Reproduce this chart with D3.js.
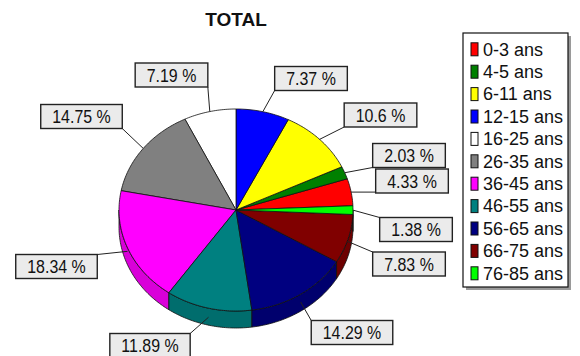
<!DOCTYPE html>
<html>
<head>
<meta charset="utf-8">
<script src="https://cdn.jsdelivr.net/npm/d3@7"></script>
<style>
  html, body { margin: 0; padding: 0; background: #ffffff; }
  svg { display: block; }
  text { font-family: "Liberation Sans", Arial, sans-serif; }
</style>
</head>
<body>
<script>
// Age groups, their share of the total (in %), and slice colours
const categories = ["0-3 ans", "4-5 ans", "6-11 ans", "12-15 ans", "16-25 ans", "26-35 ans",
                    "36-45 ans", "46-55 ans", "56-65 ans", "66-75 ans", "76-85 ans"];
const shares = [4.33, 2.03, 10.6, 7.37, 7.19, 14.75, 18.34, 11.89, 14.29, 7.83, 1.38];
const shareLabels = ["4.33 %", "2.03 %", "10.6 %", "7.37 %", "7.19 %", "14.75 %",
                     "18.34 %", "11.89 %", "14.29 %", "7.83 %", "1.38 %"];
const colors = ["#ff0000", "#008000", "#ffff00", "#0000ff", "#ffffff", "#808080",
                "#ff00ff", "#008080", "#000080", "#800000", "#00ff00"];
const title = "TOTAL";

const W = 580, H = 356;
const svg = d3.select("body").append("svg").attr("width", W).attr("height", H);

// Tilted pie geometry: elliptical top face plus a visible rim below it
const cx = 236, cy = 210, rx = 117, ry = 101, depth = 17;
const pt = (a, k = 1) => [cx + rx * k * Math.sin(a), cy - ry * k * Math.cos(a)];

// Slices run counter-clockwise; the 12-15 ans slice ends exactly at 12 o'clock
const total = d3.sum(shares);
const startA = 2 * Math.PI * d3.sum(shares.slice(0, 4)) / total;
const pie = d3.pie().sort(null).value(d => d)
  .startAngle(startA).endAngle(startA - 2 * Math.PI);
const arcs = pie(shares);

const arcPoints = (a0, a1) => {
  const n = Math.max(2, Math.ceil(Math.abs(a1 - a0) / (Math.PI / 180)));
  return d3.range(n + 1).map(i => pt(a0 + (a1 - a0) * i / n));
};
const line = d3.line();

// Rim: visible where the outer edge faces the viewer (lower half of the ellipse)
const visLo = -1.5 * Math.PI, visHi = -0.5 * Math.PI;
const rim = svg.append("g");
arcs.forEach((d, i) => {
  const lo = Math.max(Math.min(d.startAngle, d.endAngle), visLo);
  const hi = Math.min(Math.max(d.startAngle, d.endAngle), visHi);
  if (lo >= hi) return;
  const top = arcPoints(lo, hi);
  const bottom = top.slice().reverse().map(p => [p[0], p[1] + depth]);
  rim.append("path")
    .attr("d", line(top.concat(bottom)) + "Z")
    .attr("fill", d3.color(colors[i]).darker(0.45))
    .attr("stroke", "#101010")
    .attr("stroke-width", 0.8)
    .attr("stroke-linejoin", "round");
});

// Top faces
const faces = svg.append("g");
arcs.forEach((d, i) => {
  const pts = [[cx, cy]].concat(arcPoints(d.startAngle, d.endAngle));
  faces.append("path")
    .attr("d", line(pts) + "Z")
    .attr("fill", colors[i])
    .attr("stroke", "#101010")
    .attr("stroke-width", 0.8)
    .attr("stroke-linejoin", "round");
});

// Label box centres for each slice
const boxCentres = [[412, 181], [409, 155.5], [380.5, 115], [311, 78.5], [171.5, 75], [81.5, 116.5],
                    [56.5, 266.5], [150, 345.5], [352, 332.5], [409, 264], [416, 229.5]];
const boxH = 24, padX = 11.5, textScale = 0.84;

const labels = svg.append("g");
arcs.forEach((d, i) => {
  const [bx, by] = boxCentres[i];
  const g = labels.append("g");
  const t = g.append("text")
    .attr("text-anchor", "middle")
    .attr("font-size", 19)
    .attr("fill", "#111")
    .attr("transform", `translate(${bx},${by + 6.8}) scale(${textScale},1)`)
    .text(shareLabels[i]);
  const tw = t.node().getComputedTextLength() * textScale;
  const bw = tw + 2 * padX;
  const x0 = bx - bw / 2, y0 = by - boxH / 2;

  // leader from the slice's mid-angle on the rim to the closest point of the box
  const mid = (d.startAngle + d.endAngle) / 2;
  const s = pt(mid);
  const down = Math.max(0, -Math.cos(mid));
  s[1] += depth * 0.55 * down;
  const e = [Math.max(x0, Math.min(x0 + bw, s[0])), Math.max(y0, Math.min(y0 + boxH, s[1]))];
  labels.insert("line", ":first-child")
    .attr("x1", s[0]).attr("y1", s[1]).attr("x2", e[0]).attr("y2", e[1])
    .attr("stroke", "#222").attr("stroke-width", 1);

  g.insert("rect", "text")
    .attr("x", x0).attr("y", y0).attr("width", bw).attr("height", boxH)
    .attr("fill", "#ebebeb").attr("stroke", "#222").attr("stroke-width", 1.4);
});

// Title
svg.append("text")
  .attr("x", 236).attr("y", 26)
  .attr("text-anchor", "middle")
  .attr("font-size", 19).attr("font-weight", "bold")
  .attr("fill", "#111")
  .text(title);

// Legend with drop shadow
const lg = svg.append("g");
const lx = 463, ly = 33, lw = 105, lh = 254;
lg.append("rect").attr("x", lx + 3).attr("y", ly + 3).attr("width", lw).attr("height", lh)
  .attr("fill", "#9a9a9a");
lg.append("rect").attr("x", lx).attr("y", ly).attr("width", lw).attr("height", lh)
  .attr("fill", "#ffffff").attr("stroke", "#111").attr("stroke-width", 1.2);

const rowY = d3.scalePoint().domain(categories).range([49.3, 273.3]);
categories.forEach((c, i) => {
  const y = rowY(c);
  lg.append("rect").attr("x", 471).attr("y", y - 6.5).attr("width", 7).attr("height", 13)
    .attr("fill", colors[i]).attr("stroke", "#111").attr("stroke-width", 1);
  lg.append("text").attr("x", 483).attr("y", y + 6.3)
    .attr("font-size", 18).attr("fill", "#111")
    .text(c);
});
</script>
</body>
</html>
